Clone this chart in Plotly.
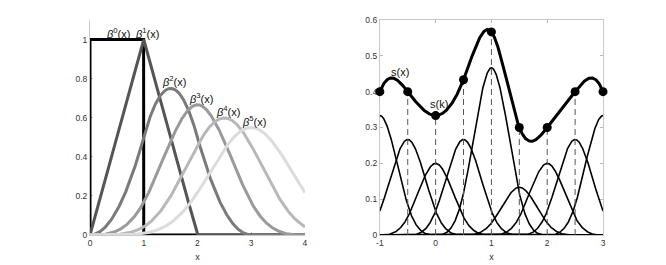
import numpy as np
from math import comb, factorial
import plotly.graph_objects as go
from plotly.subplots import make_subplots

# ---- data ----
degrees = [0, 1, 2, 3, 4, 5]
degree_colors = ["#000000", "#555555", "#7a7a7a", "#9a9a9a", "#b8b8b8", "#dcdcdc"]
degree_labels = ["<i>β</i><sup>0</sup>(x)", "<i>β</i><sup>1</sup>(x)", "<i>β</i><sup>2</sup>(x)",
                 "<i>β</i><sup>3</sup>(x)", "<i>β</i><sup>4</sup>(x)", "<i>β</i><sup>5</sup>(x)"]

knots = [-1.0, -0.5, 0.0, 0.5, 1.0, 1.5, 2.0, 2.5, 3.0]
coefs = [0.5, 0.4, 0.3, 0.4, 0.7, 0.2, 0.3, 0.4, 0.5]
knot_spacing = 0.5

left_xticks = [0, 1, 2, 3, 4]
left_xticktext = ["0", "1", "2", "3", "4"]
left_yticks = [0, 0.2, 0.4, 0.6, 0.8, 1]
left_yticktext = ["0", "0.2", "0.4", "0.6", "0.8", "1"]
right_xticks = [-1, 0, 1, 2, 3]
right_xticktext = ["-1", "0", "1", "2", "3"]
right_yticks = [0, 0.1, 0.2, 0.3, 0.4, 0.5, 0.6]
right_yticktext = ["0", "0.1", "0.2", "0.3", "0.4", "0.5", "0.6"]


def bspline_causal(x, n):
    """B-spline of degree n, support [0, n+1]."""
    x = np.asarray(x, dtype=float)
    if n == 0:
        return ((x >= 0) & (x < 1)).astype(float)
    s = np.zeros_like(x)
    for k in range(n + 2):
        s += (-1) ** k * comb(n + 1, k) * np.clip(x - k, 0, None) ** n
    return s / factorial(n)


def bspline3_centered(x):
    return bspline_causal(np.asarray(x) + 2.0, 3)


fig = make_subplots(rows=1, cols=2, horizontal_spacing=0.146)

# ---- left panel ----
grid = np.linspace(0, 4, 1601)
for n, col in zip(degrees, degree_colors):
    xs = np.concatenate([[0.0], grid])
    ys = np.concatenate([[0.0], bspline_causal(grid, n)])
    fig.add_trace(go.Scatter(x=xs, y=ys, mode="lines",
                             line=dict(color=col, width=3),
                             showlegend=False, hoverinfo="skip"), row=1, col=1)

for n, lab in zip(degrees, degree_labels):
    xp = 0.5 if n == 0 else (n + 1) / 2
    peak = float(bspline_causal([xp], n)[0])
    fig.add_annotation(x=0.53 if n == 0 else xp + 0.06, y=peak, yshift=-2,
                       text=lab, showarrow=False, xref="x", yref="y",
                       yanchor="bottom", xanchor="center",
                       font=dict(size=11, color="#111111", family="Liberation Sans"))

# ---- right panel ----
xg = np.linspace(-1, 3, 1201)
total = np.zeros_like(xg)
for k, c in zip(knots, coefs):
    yb = c * bspline3_centered((xg - k) / knot_spacing)
    total += yb
    fig.add_trace(go.Scatter(x=xg, y=yb, mode="lines",
                             line=dict(color="black", width=1.6),
                             showlegend=False, hoverinfo="skip"), row=1, col=2)

sk = []
for k in knots:
    v = sum(c * bspline3_centered((k - kk) / knot_spacing) for kk, c in zip(knots, coefs))
    sk.append(float(v))

for k, v in zip(knots, sk):
    if -1 < k < 3:
        fig.add_trace(go.Scatter(x=[k, k], y=[0, v], mode="lines",
                                 line=dict(color="#555555", width=1, dash="6px,4px"),
                                 showlegend=False, hoverinfo="skip"), row=1, col=2)

fig.add_trace(go.Scatter(x=xg, y=total, mode="lines",
                         line=dict(color="black", width=3),
                         showlegend=False, hoverinfo="skip"), row=1, col=2)
fig.add_trace(go.Scatter(x=knots, y=sk, mode="markers",
                         marker=dict(color="black", size=9),
                         cliponaxis=False,
                         showlegend=False, hoverinfo="skip"), row=1, col=2)

fig.add_annotation(x=-0.64, y=0.455, text="s(x)", showarrow=False, xref="x2", yref="y2",
                   font=dict(size=11, color="#111111", family="Liberation Sans"))
fig.add_annotation(x=0.06, y=0.366, text="s(k)", showarrow=False, xref="x2", yref="y2",
                   font=dict(size=11, color="#111111", family="Liberation Sans"))

axis_common = dict(showgrid=False, zeroline=False, ticks="inside", ticklen=3,
                   tickcolor="#bbbbbb", linecolor="#c8c8c8", linewidth=1, showline=True,
                   automargin=False, layer="below traces",
                   tickfont=dict(size=8.5, color="#333333", family="Liberation Sans"))

fig.update_xaxes(range=[0, 4], tickvals=left_xticks, ticktext=left_xticktext, title_text="x",
                 title_font=dict(size=9, color="#333333"), title_standoff=6,
                 **axis_common, row=1, col=1)
fig.update_yaxes(range=[0, 1.1], tickvals=left_yticks, ticktext=left_yticktext,
                 **axis_common, row=1, col=1)
fig.update_xaxes(range=[-1, 3], tickvals=right_xticks, ticktext=right_xticktext, title_text="x",
                 title_font=dict(size=9, color="#333333"), title_standoff=6,
                 mirror="ticks", **axis_common, row=1, col=2)
fig.update_yaxes(range=[0, 0.6], tickvals=right_yticks, ticktext=right_yticktext,
                 mirror="ticks", **axis_common, row=1, col=2)

fig.update_layout(width=666, height=265, margin=dict(l=82, r=71, t=12, b=38),
                  plot_bgcolor="white", paper_bgcolor="white",
                  font=dict(family="Liberation Sans", color="#333333"))
fig.update_xaxes(domain=[0, 0.419], row=1, col=1)
fig.update_xaxes(domain=[0.565, 1.0], row=1, col=2)

fig.write_html("out.html")
